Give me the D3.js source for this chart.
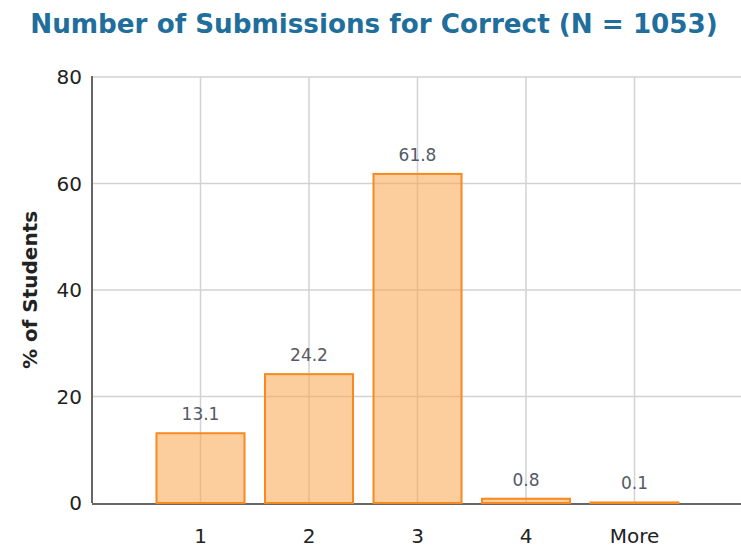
<!DOCTYPE html>
<html><head><meta charset="utf-8">
<script src="https://cdn.jsdelivr.net/npm/d3@7"></script>
<style>body{margin:0;background:#fff}svg{display:block}</style>
</head><body>
<svg id="c" width="741" height="548"></svg>
<script>
const categories = ["1", "2", "3", "4", "More"];
const values = [13.1, 24.2, 61.8, 0.8, 0.1];
const yTicks = [0, 20, 40, 60, 80];
const titleText = "Number of Submissions for Correct (N = 1053)";
const yTitle = "% of Students";

const svg = d3.select("#c");
const W = 741, H = 548;
const m = {left: 92, top: 77, bottom: 503, right: 743};

const x = d3.scaleLinear().domain([0, categories.length + 1]).range([m.left, m.right]);
const y = d3.scaleLinear().domain([0, 80]).range([m.bottom, m.top]);
const barW = 88;
const font = "'DejaVu Sans', Verdana, sans-serif";

// horizontal gridlines
svg.append("g").selectAll("line").data(yTicks.filter(d => d > 0)).join("line")
  .attr("x1", m.left).attr("x2", W).attr("y1", d => y(d)).attr("y2", d => y(d))
  .attr("stroke", "#d2d2d2").attr("stroke-width", 1.5);
// vertical gridlines
svg.append("g").selectAll("line").data(categories).join("line")
  .attr("x1", (d, i) => x(i + 1)).attr("x2", (d, i) => x(i + 1))
  .attr("y1", m.top).attr("y2", m.bottom)
  .attr("stroke", "#d2d2d2").attr("stroke-width", 1.5);

// axes lines
svg.append("line").attr("x1", m.left).attr("x2", m.left).attr("y1", m.top - 1).attr("y2", m.bottom)
  .attr("stroke", "#666").attr("stroke-width", 2);
svg.append("line").attr("x1", m.left).attr("x2", W).attr("y1", m.bottom + 1).attr("y2", m.bottom + 1)
  .attr("stroke", "#666").attr("stroke-width", 2);

// bars
svg.append("g").selectAll("rect").data(values).join("rect")
  .attr("x", (d, i) => x(i + 1) - barW / 2)
  .attr("width", barW)
  .attr("y", d => y(d))
  .attr("height", d => y(0) - y(d))
  .attr("fill", "#f9a64e").attr("fill-opacity", 0.55)
  .attr("stroke", "#f7891e").attr("stroke-width", 2);

// value labels
svg.append("g").selectAll("text").data(values).join("text")
  .attr("x", (d, i) => x(i + 1))
  .attr("y", d => y(d) - 13)
  .attr("text-anchor", "middle")
  .attr("font-family", font).attr("font-size", 17)
  .attr("fill", "#555a66")
  .text(d => d.toFixed(1));

// y tick labels
svg.append("g").selectAll("text").data(yTicks).join("text")
  .attr("x", m.left - 10).attr("y", d => y(d) + 7)
  .attr("text-anchor", "end")
  .attr("font-family", font).attr("font-size", 20)
  .attr("fill", "#222")
  .text(d => d);

// x tick labels
svg.append("g").selectAll("text").data(categories).join("text")
  .attr("x", (d, i) => x(i + 1)).attr("y", 543)
  .attr("text-anchor", "middle")
  .attr("font-family", font).attr("font-size", 20)
  .attr("fill", "#222")
  .text(d => d);

// y title
svg.append("text")
  .attr("transform", `translate(37,${(m.top + m.bottom) / 2}) rotate(-90)`)
  .attr("text-anchor", "middle")
  .attr("font-family", font).attr("font-size", 20).attr("font-weight", "bold")
  .attr("fill", "#222")
  .text(yTitle);

// title
const t = svg.append("text")
  .attr("x", 374).attr("y", 33)
  .attr("text-anchor", "middle")
  .attr("font-family", font).attr("font-size", 24).attr("font-weight", "bold")
  .attr("fill", "#1f6e9c")
  .text(titleText);
const tw = t.node().getComputedTextLength();
t.attr("font-size", 24 * 688 / tw);
</script>
</body></html>
